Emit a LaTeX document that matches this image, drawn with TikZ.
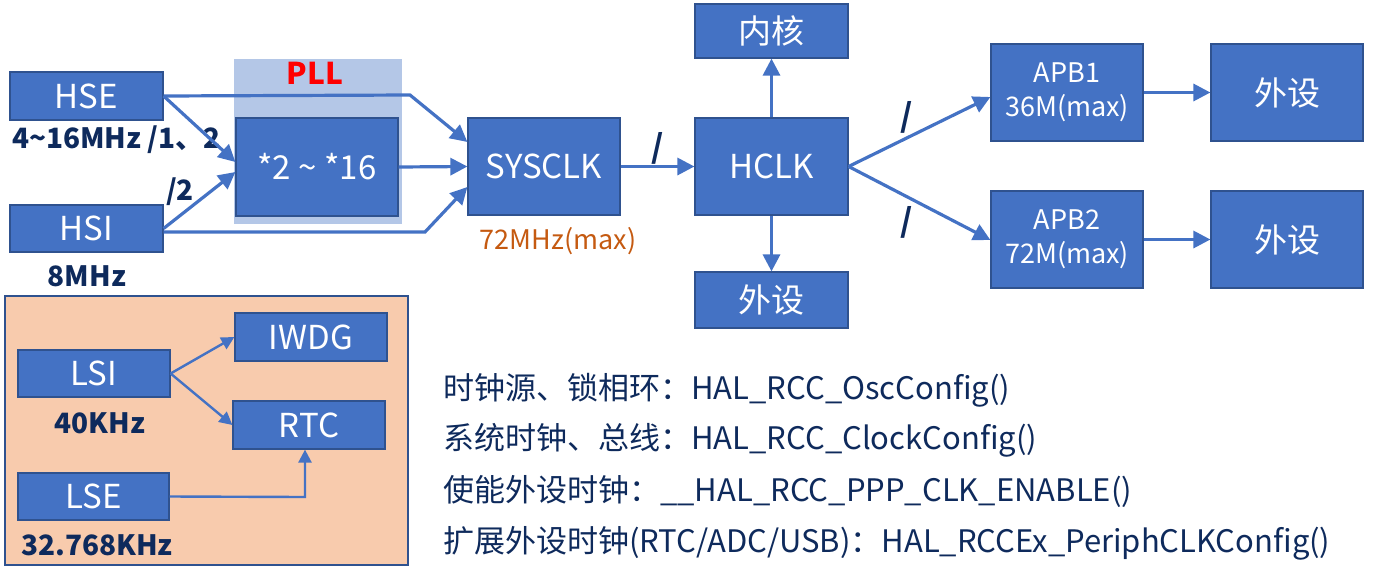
\documentclass[tikz,border=0pt]{standalone}
\usepackage{fontspec}
\setmainfont{Noto Sans CJK SC}
\usetikzlibrary{arrows.meta}
\definecolor{bl}{HTML}{4472C4}
\definecolor{bd}{HTML}{2F528F}
\definecolor{nv}{HTML}{0E2A5C}
\definecolor{pch}{HTML}{F8CBAD}
\definecolor{pllbg}{HTML}{B4C7E7}
\definecolor{org}{HTML}{C55A11}
\begin{document}
\begin{tikzpicture}[x=1pt,y=-1pt,
  box/.style={draw=bd,fill=bl,line width=1.2pt,text=white,font=\fontsize{33}{35}\selectfont,inner sep=0pt},
  sbox/.style={box,font=\fontsize{27}{34}\selectfont,align=center},
  ar/.style={draw=bl,line width=3.2pt,-{Triangle[length=17pt,width=17pt]}},
  lab/.style={text=nv,font=\bfseries\fontsize{28}{30}\selectfont,inner sep=0pt},
  code/.style={anchor=west,text=nv,font=\fontsize{31}{33}\selectfont,inner sep=0pt}]
\useasboundingbox (0,0) rectangle (1383,568);
\fill[pllbg] (234,59) rectangle (402,224);
\node[text=red,font=\bfseries\fontsize{30}{32}\selectfont] (pll) at (315,73) {PLL};
\node[box,minimum width=153,minimum height=48] (hse) at (86.5,96) {HSE};
\node[box,minimum width=153,minimum height=47] (hsi) at (86.5,228.5) {HSI};
\node[box,minimum width=162,minimum height=98] (mul) at (317,167) {*2 \textasciitilde{} *16};
\node[box,minimum width=152,minimum height=97] (sys) at (544,166.5) {SYSCLK};
\node[box,minimum width=153,minimum height=97] (hclk) at (771.5,166.5) {HCLK};
\node[box,minimum width=153,minimum height=54] (core) at (771.5,31) {内核};
\node[box,minimum width=153,minimum height=56] (per0) at (771.5,300) {外设};
\node[sbox,minimum width=152,minimum height=97] (apb1) at (1067,92.5) {APB1\\36M(max)};
\node[sbox,minimum width=152,minimum height=97] (apb2) at (1067,239.5) {APB2\\72M(max)};
\node[box,minimum width=152,minimum height=97] (per1) at (1287,92.5) {外设};
\node[box,minimum width=152,minimum height=97] (per2) at (1287,239.5) {外设};
\node[lab,anchor=west] (l1) at (12,140) {4\textasciitilde16MHz /1、2};
\node[lab] (l2) at (180,192) {/2};
\node[lab] (l3) at (87,276) {8MHz};
\node[text=org,font=\fontsize{27}{29}\selectfont] (l4) at (558,241) {72MHz(max)};
\node[lab,font=\bfseries\fontsize{32}{34}\selectfont] (s1) at (658,148) {/};
\node[lab,font=\bfseries\fontsize{32}{34}\selectfont] (s2) at (907,117) {/};
\node[lab,font=\bfseries\fontsize{32}{34}\selectfont] (s3) at (907,222) {/};
\coordinate (c1) at (410,95);
\coordinate (c2) at (425,232);
\draw[ar] (hse.east) -- (c1) -- (sys.west|-0,142);
\draw[ar] (hse.east) -- (mul.west|-0,162);
\draw[ar] (hsi.east) -- (mul.west|-0,172);
\draw[ar] (hsi.east|-c2) -- (c2) -- (sys.west|-0,187);
\draw[ar] (mul.east) -- (sys.west);
\draw[ar] (sys.east) -- (hclk.west);
\draw[ar] (hclk.north) -- (core.south);
\draw[ar] (hclk.south) -- (per0.north);
\draw[ar] (hclk.east) -- (apb1.west|-0,97);
\draw[ar] (hclk.east) -- (apb2.west|-0,240);
\draw[ar] (apb1.east) -- (per1.west);
\draw[ar] (apb2.east) -- (per2.west);
% low speed panel
\draw[bd,fill=pch,line width=1.5pt] (5,296) rectangle (408,565);
\node[box,minimum width=152,minimum height=47] (lsi) at (94,373.5) {LSI};
\node[box,minimum width=152,minimum height=48] (iwdg) at (311,337) {IWDG};
\node[box,minimum width=152,minimum height=48] (rtc) at (309,425) {RTC};
\node[box,minimum width=151,minimum height=47] (lse) at (93.5,496.5) {LSE};
\node[lab] (l5) at (100,423) {40KHz};
\node[lab] (l6) at (97,545) {32.768KHz};
\tikzset{sar/.style={draw=bl,line width=2.4pt,-{Triangle[length=13pt,width=13pt]}}}
\coordinate (c3) at (305,497);
\draw[sar] (lsi.east) -- (iwdg.west);
\draw[sar] (lsi.east) -- (rtc.west);
\draw[sar] (lse.east) -- (c3) -- (c3|-rtc.south);
\node[code] (t1) at (443,390) {时钟源、锁相环：HAL\_RCC\_OscConfig()};
\node[code] (t2) at (443,440) {系统时钟、总线：HAL\_RCC\_ClockConfig()};
\node[code] (t3) at (443,491) {使能外设时钟：\_\_HAL\_RCC\_PPP\_CLK\_ENABLE()};
\node[code] (t4) at (443,543) {扩展外设时钟(RTC/ADC/USB)：HAL\_RCCEx\_PeriphCLKConfig()};
\end{tikzpicture}
\end{document}
